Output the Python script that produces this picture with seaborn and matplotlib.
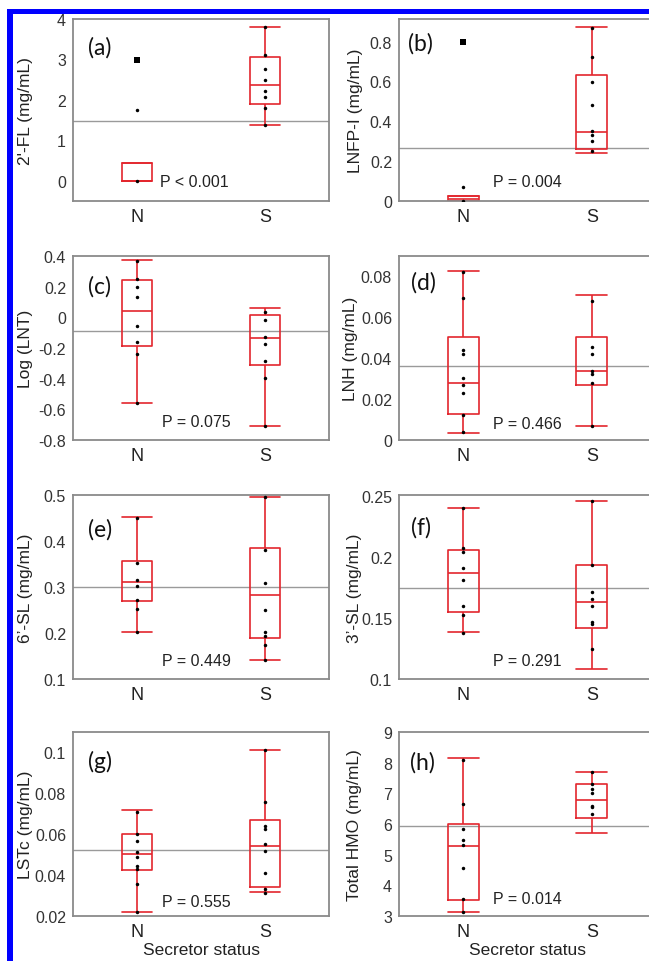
import numpy as np
import pandas as pd
import matplotlib
matplotlib.use("Agg")
import matplotlib.pyplot as plt
import seaborn as sns
from matplotlib.patches import Rectangle

# ---------------- data ----------------
GROUPS = ["N", "S"]

# box summaries per group: [lower whisker, Q1, median, Q3, upper whisker]
A_N_BOX = [0.0, 0.0, 0.0, 0.45, 0.45]
A_S_BOX = [1.385, 1.90, 2.37, 3.05, 3.80]
A_N_PTS = [0.0, 1.75]
A_S_PTS = [3.80, 3.10, 2.76, 2.49, 2.22, 2.08, 1.80, 1.39]
A_N_BIG = [2.98]
A_MEAN = 1.47

B_N_BOX = [0.0, 0.0, 0.008, 0.024, 0.024]
B_S_BOX = [0.243, 0.26, 0.347, 0.63, 0.872]
B_N_PTS = [0.0, 0.072]
B_S_PTS = [0.867, 0.72, 0.597, 0.48, 0.352, 0.33, 0.30, 0.25]
B_N_BIG = [0.80]
B_MEAN = 0.267

C_N_BOX = [-0.558, -0.184, 0.041, 0.242, 0.372]
C_S_BOX = [-0.71, -0.31, -0.136, 0.013, 0.058]
C_N_PTS = [0.37, 0.25, 0.20, 0.13, -0.056, -0.162, -0.238, -0.558]
C_S_PTS = [0.037, -0.017, -0.13, -0.173, -0.288, -0.396, -0.71]
C_MEAN = -0.086

D_N_BOX = [0.0036, 0.0126, 0.028, 0.0503, 0.0823]
D_S_BOX = [0.0069, 0.0269, 0.0338, 0.0503, 0.0708]
D_N_PTS = [0.082, 0.069, 0.044, 0.042, 0.030, 0.027, 0.023, 0.012, 0.004]
D_S_PTS = [0.068, 0.0454, 0.042, 0.0334, 0.032, 0.0279, 0.007]
D_MEAN = 0.036

E_N_BOX = [0.2015, 0.269, 0.311, 0.356, 0.4527]
E_S_BOX = [0.1415, 0.189, 0.282, 0.384, 0.495]
E_N_PTS = [0.45, 0.353, 0.3145, 0.3015, 0.271, 0.2516, 0.2015]
E_S_PTS = [0.495, 0.38, 0.309, 0.249, 0.2015, 0.194, 0.174, 0.1415]
E_MEAN = 0.30

F_N_BOX = [0.1387, 0.1552, 0.1867, 0.2057, 0.2401]
F_S_BOX = [0.1082, 0.1415, 0.1632, 0.1934, 0.2459]
F_N_PTS = [0.24, 0.207, 0.2036, 0.191, 0.181, 0.1599, 0.152, 0.138]
F_S_PTS = [0.246, 0.193, 0.171, 0.1656, 0.16, 0.147, 0.145, 0.1242]
F_MEAN = 0.1747

G_N_BOX = [0.022, 0.0424, 0.0505, 0.060, 0.0719]
G_S_BOX = [0.0318, 0.0343, 0.0543, 0.0669, 0.1008]
G_N_PTS = [0.0709, 0.060, 0.0567, 0.051, 0.049, 0.0446, 0.043, 0.0355, 0.022]
G_S_PTS = [0.101, 0.0758, 0.0638, 0.0625, 0.0551, 0.0518, 0.0409, 0.0334, 0.031]
G_MEAN = 0.0523

H_N_BOX = [3.13, 3.51, 5.29, 6.01, 8.14]
H_S_BOX = [5.70, 6.21, 6.79, 7.30, 7.69]
H_N_PTS = [8.1, 6.64, 5.84, 5.47, 5.30, 4.56, 3.57, 3.13]
H_S_PTS = [7.69, 7.30, 7.13, 7.0, 6.6, 6.55, 6.32]
H_MEAN = 5.92

LETTERS = ["(a)", "(b)", "(c)", "(d)", "(e)", "(f)", "(g)", "(h)"]
YLABELS = ["2'-FL (mg/mL)", "LNFP-I (mg/mL)", "Log (LNT)", "LNH (mg/mL)",
           "6’-SL (mg/mL)", "3’-SL (mg/mL)", "LSTc (mg/mL)", "Total HMO (mg/mL)"]
PTEXT = ["P < 0.001", "P = 0.004", "P = 0.075", "P = 0.466",
         "P = 0.449", "P = 0.291", "P = 0.555", "P = 0.014"]
YTICKS = [[0, 1, 2, 3, 4], [0, 0.2, 0.4, 0.6, 0.8],
          [-0.8, -0.6, -0.4, -0.2, 0, 0.2, 0.4], [0, 0.02, 0.04, 0.06, 0.08],
          [0.1, 0.2, 0.3, 0.4, 0.5], [0.1, 0.15, 0.2, 0.25],
          [0.02, 0.04, 0.06, 0.08, 0.1], [3, 4, 5, 6, 7, 8, 9]]
YLIMS = [(-0.5, 4.0), (0, 0.913), (-0.8, 0.4), (0, 0.0897),
         (0.1, 0.5), (0.1, 0.2505), (0.02, 0.1098), (3, 9)]
XLABEL = "Secretor status"

PANELS = [
    (A_N_BOX, A_S_BOX, A_N_PTS, A_S_PTS, A_N_BIG, A_MEAN),
    (B_N_BOX, B_S_BOX, B_N_PTS, B_S_PTS, B_N_BIG, B_MEAN),
    (C_N_BOX, C_S_BOX, C_N_PTS, C_S_PTS, [], C_MEAN),
    (D_N_BOX, D_S_BOX, D_N_PTS, D_S_PTS, [], D_MEAN),
    (E_N_BOX, E_S_BOX, E_N_PTS, E_S_PTS, [], E_MEAN),
    (F_N_BOX, F_S_BOX, F_N_PTS, F_S_PTS, [], F_MEAN),
    (G_N_BOX, G_S_BOX, G_N_PTS, G_S_PTS, [], G_MEAN),
    (H_N_BOX, H_S_BOX, H_N_PTS, H_S_PTS, [], H_MEAN),
]

# ---------------- style ----------------
sns.set_style("white")
plt.rcParams["font.family"] = ["Liberation Sans", "DejaVu Sans"]

RED = "#e3262e"
GREY = "#8a8a8a"
W, H = 649, 962
fig = plt.figure(figsize=(W / 100, H / 100), dpi=100)

col_left = [73, 399]
col_width = [256, 257]
rows = [(20, 202), (257, 441), (496, 680), (733, 917)]
letter_pos = [(0.06, 0.845), (0.035, 0.87), (0.06, 0.84), (0.047, 0.86),
              (0.06, 0.815), (0.047, 0.826), (0.06, 0.84), (0.043, 0.84)]
p_pos = [(0.34, 0.105), (0.366, 0.105), (0.347, 0.098), (0.366, 0.092),
         (0.347, 0.098), (0.366, 0.098), (0.347, 0.08), (0.366, 0.093)]
ylab_x = [-0.155, -0.14, -0.155, -0.16, -0.155, -0.145, -0.155, -0.145]

for i, (nbox, sbox, npts, spts, nbig, mean) in enumerate(PANELS):
    r, c = divmod(i, 2)
    top, bot = rows[r]
    ax = fig.add_axes([col_left[c] / W, 1 - bot / H,
                       col_width[c] / W, (bot - top) / H])
    ax.axhline(mean, color="#9a9a9a", lw=1.0, zorder=0)

    box_df = pd.DataFrame({"grp": ["N"] * len(nbox) + ["S"] * len(sbox),
                           "val": nbox + sbox})
    sns.boxplot(data=box_df, x="grp", y="val", order=GROUPS, whis=(0, 100),
                width=0.24, capwidths=0.24, fill=False, color=RED,
                linewidth=1.2, ax=ax, zorder=2)

    pts_df = pd.DataFrame({"grp": ["N"] * len(npts) + ["S"] * len(spts),
                           "val": npts + spts})
    sns.stripplot(data=pts_df, x="grp", y="val", order=GROUPS, jitter=False,
                  color="black", size=2.5, linewidth=0, ax=ax, zorder=3)
    if nbig:
        big_df = pd.DataFrame({"grp": ["N"] * len(nbig), "val": nbig})
        sns.stripplot(data=big_df, x="grp", y="val", order=GROUPS,
                      jitter=False, color="black", size=4.2, marker="s",
                      linewidth=0, ax=ax, zorder=3)

    ax.set_xlim(-0.5, 1.5)
    ax.set_ylim(*YLIMS[i])
    ax.set_yticks(YTICKS[i])
    ax.set_yticklabels([f"{t:g}" for t in YTICKS[i]])
    if i == 0:
        ax.set_yticks(np.arange(-0.5, 4.0, 0.5), minor=True)
        ax.tick_params(axis="y", which="minor", length=3, color=GREY,
                       direction="out", width=1)
    ax.set_xticks([0, 1])
    ax.set_xticklabels(GROUPS)
    ax.set_xticks([0.5], minor=True)
    ax.tick_params(axis="x", which="major", length=0, pad=5,
                   labelsize=13, labelcolor="#222222")
    ax.tick_params(axis="x", which="minor", length=4, color=GREY,
                   direction="out", width=1)
    ax.tick_params(axis="y", which="major", length=4, color=GREY,
                   direction="out", width=1, pad=1, labelsize=11.5,
                   labelcolor="#333333")
    for sp in ax.spines.values():
        sp.set_visible(True)
        sp.set_color(GREY)
        sp.set_linewidth(1.3)

    ax.set_ylabel(YLABELS[i], fontsize=12.5, color="#222222")
    ax.yaxis.set_label_coords(ylab_x[i], 0.5)
    if r == 3:
        ax.set_xlabel(XLABEL, fontsize=12.5, color="#222222", labelpad=1.5)
    else:
        ax.set_xlabel("")

    ax.text(*letter_pos[i], LETTERS[i], transform=ax.transAxes,
            fontsize=16.5, family=["Lato", "DejaVu Sans"], color="#111111",
            ha="left", va="center")
    ax.text(*p_pos[i], PTEXT[i], transform=ax.transAxes, fontsize=11.5,
            color="#222222", ha="left", va="center")

# blue frame (left and top edges)
fig.add_artist(Rectangle((7 / W, 0), 6 / W, (H - 10) / H,
                         transform=fig.transFigure, color="#0000ff", lw=0))
fig.add_artist(Rectangle((7 / W, 1 - 15 / H), 1, 5 / H,
                         transform=fig.transFigure, color="#0000ff", lw=0))

fig.savefig("out.png", dpi=100)
